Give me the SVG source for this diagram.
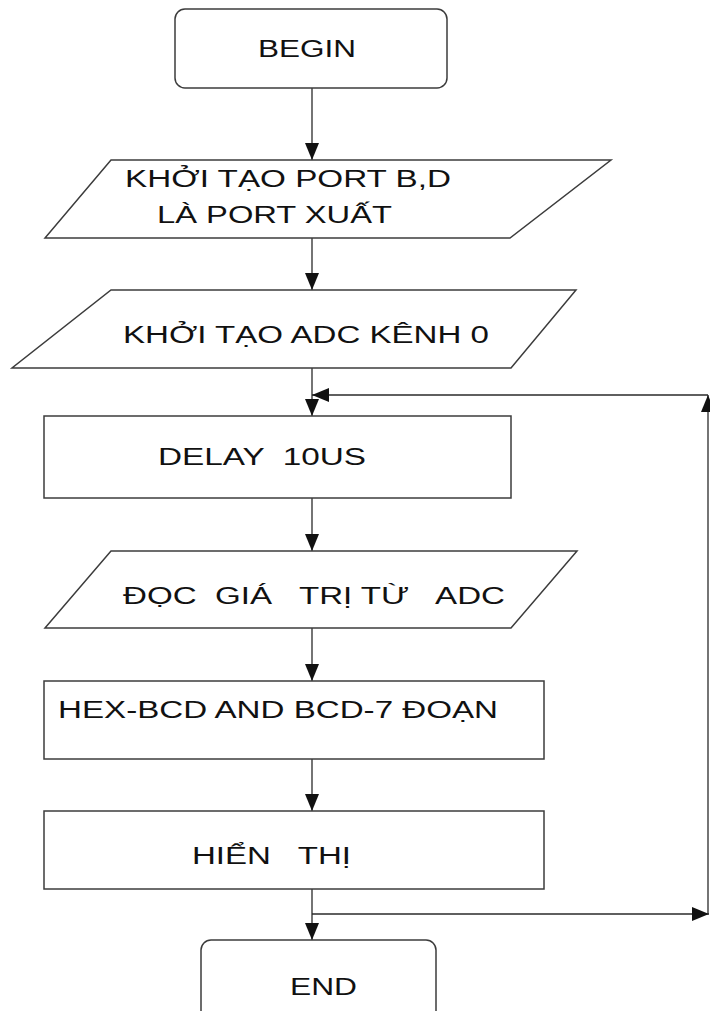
<svg xmlns="http://www.w3.org/2000/svg" width="710" height="1011" viewBox="0 0 710 1011">
<style>
.shape{fill:#ffffff;stroke:#3c3c3c;stroke-width:1.5}
.conn{fill:none;stroke:#2a2a2a;stroke-width:1.3}
.t{font-family:"Liberation Sans","Noto Sans",Arial,sans-serif;font-size:23px;fill:#111}
</style>
<defs>
<marker id="ah" markerUnits="userSpaceOnUse" markerWidth="18" markerHeight="16" refX="17" refY="7" orient="auto">
<path d="M0,0 L17,7 L0,14 z" fill="#111"/>
</marker>
</defs>
<rect width="710" height="1011" fill="#ffffff"/>
<g id="connectors">
<line class="conn" x1="312" y1="88" x2="312" y2="160" marker-end="url(#ah)"/>
<line class="conn" x1="312" y1="238" x2="312" y2="290" marker-end="url(#ah)"/>
<line class="conn" x1="312" y1="368" x2="312" y2="416" marker-end="url(#ah)"/>
<line class="conn" x1="312" y1="498" x2="312" y2="551" marker-end="url(#ah)"/>
<line class="conn" x1="312" y1="628" x2="312" y2="681" marker-end="url(#ah)"/>
<line class="conn" x1="312" y1="759" x2="312" y2="811" marker-end="url(#ah)"/>
<line class="conn" x1="312" y1="889" x2="312" y2="940" marker-end="url(#ah)"/>
<line class="conn" x1="312" y1="914" x2="709" y2="914" marker-end="url(#ah)"/>
<line class="conn" x1="708" y1="914" x2="708" y2="395" marker-end="url(#ah)"/>
<line class="conn" x1="708" y1="395" x2="312" y2="395" marker-end="url(#ah)"/>
</g>
<g id="begin">
<rect class="shape" x="175" y="9" width="272" height="79" rx="10"/>
<text class="t" x="258" y="57" textLength="98" lengthAdjust="spacingAndGlyphs">BEGIN</text>
</g>
<g id="init-port">
<polygon class="shape" points="111,160 611,160 510,238 45,238"/>
<text class="t" x="125" y="187" textLength="326" lengthAdjust="spacingAndGlyphs">KHỞI TẠO PORT B,D</text>
<text class="t" x="157" y="223" textLength="235" lengthAdjust="spacingAndGlyphs">LÀ PORT XUẤT</text>
</g>
<g id="init-adc">
<polygon class="shape" points="111,290 576,290 511,368 12,368"/>
<text class="t" x="123" y="343" textLength="366" lengthAdjust="spacingAndGlyphs">KHỞI TẠO ADC KÊNH 0</text>
</g>
<g id="delay">
<rect class="shape" x="44" y="416" width="467" height="82"/>
<text class="t" x="158" y="465" textLength="208" lengthAdjust="spacingAndGlyphs" xml:space="preserve">DELAY  10US</text>
</g>
<g id="read-adc">
<polygon class="shape" points="111,551 577,551 511,628 45,628"/>
<text class="t" x="123" y="604" textLength="382" lengthAdjust="spacingAndGlyphs" xml:space="preserve">ĐỌC  GIÁ   TRỊ TỪ   ADC</text>
</g>
<g id="convert">
<rect class="shape" x="44" y="681" width="500" height="78"/>
<text class="t" x="58" y="718" textLength="440" lengthAdjust="spacingAndGlyphs">HEX-BCD AND BCD-7 ĐOẠN</text>
</g>
<g id="display">
<rect class="shape" x="44" y="811" width="500" height="78"/>
<text class="t" x="192" y="864" textLength="159" lengthAdjust="spacingAndGlyphs" xml:space="preserve">HIỂN   THỊ</text>
</g>
<g id="end">
<rect class="shape" x="201" y="940" width="235" height="100" rx="10"/>
<text class="t" x="290" y="995" textLength="67" lengthAdjust="spacingAndGlyphs">END</text>
</g>
</svg>
